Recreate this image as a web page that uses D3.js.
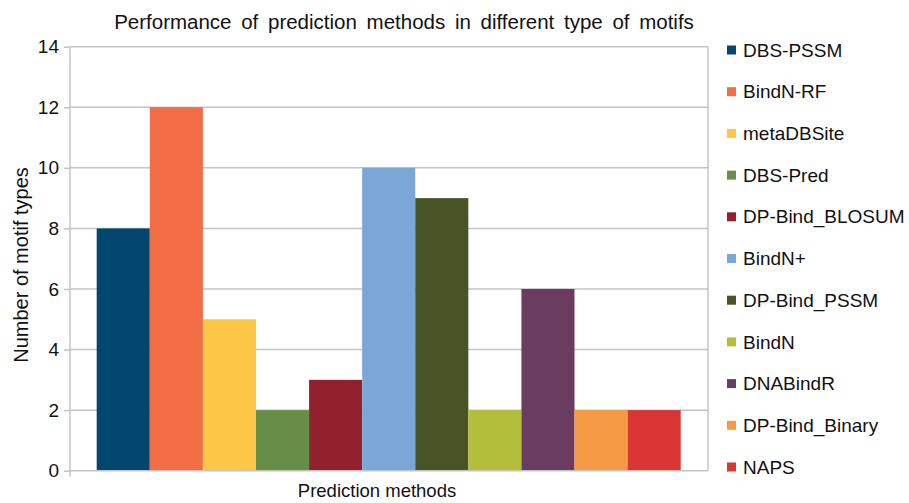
<!DOCTYPE html>
<html>
<head>
<meta charset="utf-8">
<script src="https://cdn.jsdelivr.net/npm/d3@7"></script>
<style>
  html, body { margin: 0; padding: 0; background: #fff; }
  svg { display: block; font-family: "Liberation Sans", Arial, sans-serif; }
</style>
</head>
<body>
<svg id="chart" width="909" height="503"></svg>
<script>
// Prediction methods and the number of motif types each one handles
const methods = ["DBS-PSSM", "BindN-RF", "metaDBSite", "DBS-Pred", "DP-Bind_BLOSUM",
  "BindN+", "DP-Bind_PSSM", "BindN", "DNABindR", "DP-Bind_Binary", "NAPS"];
const motifCounts = [8, 12, 5, 2, 3, 10, 9, 2, 6, 2, 2];
const colors = ["#03466f", "#f26c45", "#fcc746", "#678e46", "#93212d", "#7aa7d6",
  "#485425", "#b3bf3a", "#6a3c60", "#f69a45", "#d93533"];
const yTicks = [0, 2, 4, 6, 8, 10, 12, 14];

const svg = d3.select("#chart");
const plot = { left: 70, right: 708, top: 46.7, bottom: 470.7 };

const y = d3.scaleLinear().domain([0, 14]).range([plot.bottom, plot.top]);
const x = d3.scaleBand().domain(methods)
  .range([plot.left + 26.7, plot.right - 27.3]).paddingInner(0).paddingOuter(0);

// horizontal grid lines
svg.append("g").selectAll("line").data(yTicks.filter(d => d > 0)).join("line")
  .attr("x1", plot.left).attr("x2", plot.right)
  .attr("y1", d => y(d)).attr("y2", d => y(d))
  .attr("stroke", "#c4c4c4").attr("stroke-width", 1.5);

// right frame edge
svg.append("line")
  .attr("x1", plot.right).attr("x2", plot.right)
  .attr("y1", plot.top).attr("y2", plot.bottom)
  .attr("stroke", "#c4c4c4").attr("stroke-width", 1.5);

// bars
svg.append("g").selectAll("rect").data(methods).join("rect")
  .attr("x", d => x(d))
  .attr("width", x.bandwidth())
  .attr("y", (d, i) => y(motifCounts[i]))
  .attr("height", (d, i) => y(0) - y(motifCounts[i]))
  .attr("fill", (d, i) => colors[i]);

// y axis
const yAxis = svg.append("g")
  .attr("transform", `translate(${plot.left},0)`)
  .call(d3.axisLeft(y).tickValues(yTicks).tickSize(6).tickPadding(5));
yAxis.select(".domain").attr("stroke", "#c4c4c4").attr("stroke-width", 1.5)
  .attr("d", `M0,${plot.top}V${plot.bottom + 6}`);
yAxis.selectAll(".tick line").attr("stroke", "#c4c4c4").attr("stroke-width", 1.5);
yAxis.selectAll(".tick text").attr("font-size", 19).attr("fill", "#111")
  .attr("font-family", "Liberation Sans, Arial, sans-serif");

// x axis baseline
svg.append("line")
  .attr("x1", plot.left).attr("x2", plot.right)
  .attr("y1", y(0)).attr("y2", y(0))
  .attr("stroke", "#c4c4c4").attr("stroke-width", 1.5);

// title
svg.append("text")
  .attr("x", 404).attr("y", 29)
  .attr("text-anchor", "middle").attr("font-size", 20.5).attr("fill", "#111")
  .attr("word-spacing", 4)
  .text("Performance of prediction methods in different type of motifs");

// axis titles
svg.append("text")
  .attr("x", 377).attr("y", 497)
  .attr("text-anchor", "middle").attr("font-size", 18.5).attr("fill", "#111")
  .text("Prediction methods");
svg.append("text")
  .attr("transform", "translate(28,265) rotate(-90)")
  .attr("text-anchor", "middle").attr("font-size", 20).attr("fill", "#111")
  .text("Number of motif types");

// legend
const legend = svg.append("g").selectAll("g").data(methods).join("g")
  .attr("transform", (d, i) => `translate(727,${50 + i * 41.7})`);
legend.append("rect")
  .attr("x", 0).attr("y", -4.5).attr("width", 9).attr("height", 9)
  .attr("fill", (d, i) => colors[i]);
legend.append("text")
  .attr("x", 16).attr("y", 0).attr("dy", "0.35em")
  .attr("font-size", 19).attr("fill", "#111")
  .text(d => d);
</script>
</body>
</html>
